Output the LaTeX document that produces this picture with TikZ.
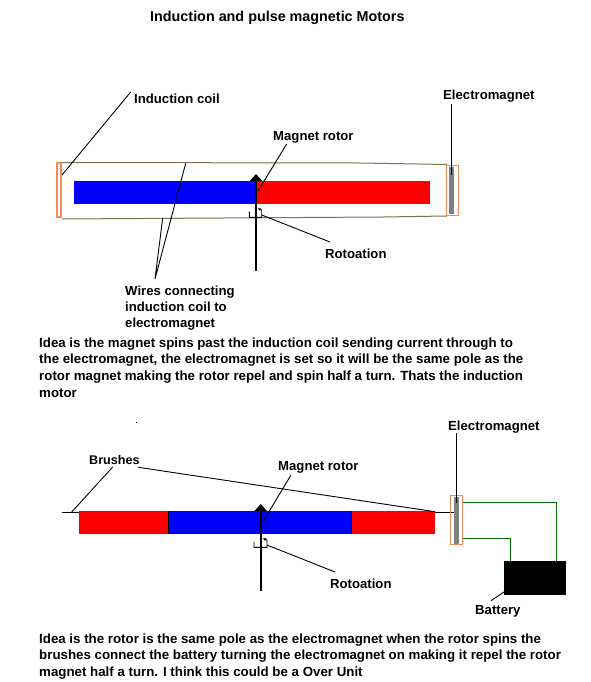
\documentclass[tikz,border=0pt]{standalone}
\usepackage{fontspec}
\setmainfont{Liberation Sans}
\definecolor{coil}{RGB}{240,140,90}
\definecolor{wire}{RGB}{125,115,80}
\definecolor{grn}{RGB}{0,115,0}
\definecolor{emgray}{RGB}{128,128,128}
\tikzset{
 lbl/.style={anchor=base west,inner sep=0pt,font=\fontsize{13.15}{14}\selectfont\bfseries},
 para/.style={anchor=base west,inner sep=0pt,font=\fontsize{13.3}{14}\selectfont\bfseries},
 ttl/.style={anchor=base west,inner sep=0pt,font=\fontsize{14.35}{16}\selectfont\bfseries},
 leader/.style={draw=black,line width=0.9pt},
 wirel/.style={draw=wire,line width=1pt},
 coilbox/.style={draw=coil,line width=1pt,fill=none},
 greenl/.style={draw=grn,line width=1pt},
 shaft/.style={draw=black,line width=2pt,-{Triangle[width=12pt,length=7pt]}},
}
\usetikzlibrary{arrows.meta}
\begin{document}
\begin{tikzpicture}[x=1pt,y=-1pt]
\useasboundingbox (0,0) rectangle (590,682);
\fill[white] (0,0) rectangle (590,682);
\node[ttl] (title) at (150,22) {Induction and pulse magnetic Motors};
% --- top diagram
\fill[blue] (74,181) rectangle (256,204);
\fill[red] (256,181) rectangle (430,204);
\coordinate (wtl) at (62,162.5); \coordinate (wtm) at (360,163); \coordinate (wtr) at (447,164.5);
\coordinate (wbl) at (62,219); \coordinate (wbm) at (383,217); \coordinate (wbr) at (447,216);
\draw[wirel] (wtl) -- (wtm) -- (wtr);
\draw[wirel] (wbl) -- (wbm) -- (wbr);
\draw[coilbox,line width=2pt] (56.5,163) rectangle (61,217);
\fill[emgray] (449,167) rectangle (454,214);
\draw[coilbox] (446,165) rectangle (458,215);
\node[lbl] (coiltxt) at (134,103) {Induction coil};
\node[lbl] (em1) at (443,100) {Electromagnet};
\node[lbl] (rot1) at (273,140) {Magnet rotor};
\node[lbl] (rota1) at (325,258) {Rotoation};
\node[lbl] (w1) at (125,295) {Wires connecting};
\node[lbl] (w2) at (125,311) {induction coil to};
\node[lbl] (w3) at (125,327) {electromagnet};
\coordinate (a) at (130.7,92); \coordinate (b) at (62,175);
\draw[leader] (a) -- (b);
\coordinate (em1a) at (451,104); \coordinate (em1b) at (451,175);
\draw[leader] (em1a) -- (em1b);
\coordinate (wj) at (155,279); \coordinate (wa) at (185.7,163.3); \coordinate (wb) at (162.7,218);
\draw[leader] (wa) -- (wj) -- (wb);
\coordinate (r1a) at (286.7,144); \coordinate (r1b) at (258,191);
\draw[leader] (r1a) -- (r1b);
\coordinate (s1a) at (256,271); \coordinate (s1b) at (256,174);
\draw[shaft] (s1a) -- (s1b);
\draw[leader,-{Stealth[length=3pt,width=3pt]}] (249.3,211.7) -- (249.3,217.3) -- (261.7,217.3) -- (261.7,210) -- (258,208.5);
\coordinate (ro1a) at (261.7,215); \coordinate (ro1b) at (330,242);
\draw[leader] (ro1a) -- (ro1b);
\node[para] (p1) at (39,347) {Idea is the magnet spins past the induction coil sending current through to};
\node[para] (p2) at (39,363) {the electromagnet, the electromagnet is set so it will be the same pole as the};
\node[para] (p3) at (39,380) {rotor magnet making the rotor repel and spin half a turn. Thats the induction};
\node[para] (p4) at (39,397) {motor};
\fill[black] (135.5,421.5) rectangle (136.5,422.5);
% --- bottom diagram
\fill[red] (79,511) rectangle (168,534);
\fill[blue] (168,511) rectangle (351,534);
\fill[red] (351,511) rectangle (435,534);
\draw[black,line width=0.6pt] (168,511) -- (168,534) (351,511) -- (351,534);
\coordinate (bl) at (62.3,512.5); \coordinate (blr) at (79,512.5);
\draw[leader] (bl) -- (blr);
\coordinate (br) at (435,512.5); \coordinate (brr) at (454,512.5);
\draw[leader] (br) -- (brr);
\node[lbl,font=\fontsize{12.6}{14}\selectfont\bfseries] (brush) at (89,464) {Brushes};
\coordinate (bra) at (112.7,467); \coordinate (brb) at (71.7,512);
\draw[leader] (bra) -- (brb);
\coordinate (brc) at (138.3,467.3); \coordinate (brd) at (435,511.7);
\draw[leader] (brc) -- (brd);
\node[lbl] (rot2) at (278,470) {Magnet rotor};
\coordinate (r2a) at (291,475); \coordinate (r2b) at (263,521.7);
\draw[leader] (r2a) -- (r2b);
\coordinate (s2a) at (260.7,591); \coordinate (s2b) at (260.7,504);
\draw[shaft] (s2a) -- (s2b);
\draw[leader,-{Stealth[length=3pt,width=3pt]}] (254,541.7) -- (254,547.3) -- (267,547.3) -- (267,540) -- (263,538.5);
\coordinate (ro2a) at (267,545); \coordinate (ro2b) at (335,572);
\draw[leader] (ro2a) -- (ro2b);
\node[lbl] (rota2) at (330,588) {Rotoation};
\fill[emgray] (454,497) rectangle (459,544);
\draw[coilbox] (450.5,495.7) rectangle (462.5,544.7);
\node[lbl] (em2) at (448,430) {Electromagnet};
\coordinate (em2a) at (456.3,433); \coordinate (em2b) at (456.3,503);
\draw[leader] (em2a) -- (em2b);
\node[fill=black,inner sep=0pt,minimum width=62pt,minimum height=34pt] (batt) at (535,578) {};
\coordinate (g1) at (462.7,502); \coordinate (g2) at (510.3,561); \coordinate (g3) at (462.7,538); \coordinate (g4) at (556.7,561);
\draw[greenl] (g1) -| (g4);
\draw[greenl] (g3) -| (g2);
\node[lbl] (batl) at (475,614) {Battery};
\coordinate (ba) at (504,592); \coordinate (bb) at (491,600.7);
\draw[leader] (ba) -- (bb);
\node[para] (q1) at (39,643) {Idea is the rotor is the same pole as the electromagnet when the rotor spins the};
\node[para] (q2) at (39,659) {brushes connect the battery turning the electromagnet on making it repel the rotor};
\node[para] (q3) at (39,676) {magnet half a turn. I think this could be a Over Unit};
\end{tikzpicture}
\end{document}
